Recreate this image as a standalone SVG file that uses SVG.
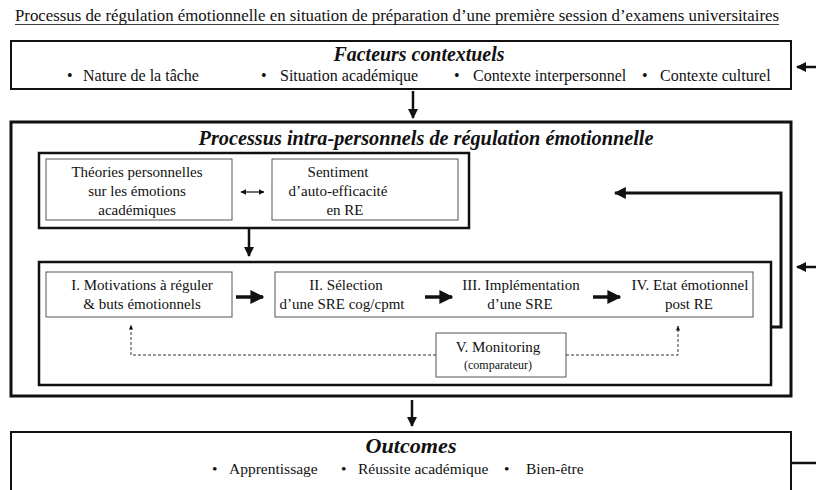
<svg xmlns="http://www.w3.org/2000/svg" width="816" height="490" viewBox="0 0 816 490">
  <style>
    text { font-family: "Liberation Serif", "Times New Roman", serif; fill: #111; }
    .t { font-size: 15px; }
    .m { font-size: 15.5px; }
    .b { font-size: 16px; }
    .l { font-size: 17px; }
    .h { font-size: 20px; font-weight: bold; font-style: italic; }
    .sm { font-size: 12px; }
    .frame { fill: #fff; stroke: #111; }
    .thick { stroke-width: 3; }
    .med { stroke-width: 2.5; }
    .thin { fill: #fff; stroke: #555; stroke-width: 1; }
    .conn { fill: none; stroke: #111; }
    .dash { fill: none; stroke: #333; stroke-width: 1; stroke-dasharray: 3 2; }
  </style>
  <defs>
    <marker id="ah" viewBox="0 0 10 10" refX="9" refY="5" markerWidth="4" markerHeight="4" orient="auto" markerUnits="strokeWidth">
      <path d="M0,0 L10,5 L0,10 z" fill="#111"/>
    </marker>
    <marker id="ahs" viewBox="0 0 10 10" refX="9" refY="5" markerWidth="5" markerHeight="5" orient="auto-start-reverse" markerUnits="strokeWidth">
      <path d="M0,0 L10,5 L0,10 z" fill="#111"/>
    </marker>
    <marker id="ahd" viewBox="0 0 10 10" refX="9" refY="5" markerWidth="5" markerHeight="6" orient="auto" markerUnits="strokeWidth">
      <path d="M0,1 L10,5 L0,9 z" fill="#111"/>
    </marker>
  </defs>

  <!-- title -->
  <text id="title" class="l" x="15" y="21" textLength="764" lengthAdjust="spacingAndGlyphs">Processus de régulation émotionnelle en situation de préparation d’une première session d’examens universitaires</text>
  <line x1="15" y1="24.5" x2="779" y2="24.5" stroke="#111" stroke-width="0.8"/>

  <!-- contextual factors -->
  <g id="facteurs">
    <rect class="frame" x="11" y="41" width="780" height="48" stroke-width="2"/>
    <text class="h" x="419" y="61" text-anchor="middle" textLength="171" lengthAdjust="spacingAndGlyphs">Facteurs contextuels</text>
    <text class="b" y="81">
      <tspan x="67">•</tspan><tspan x="83">Nature de la tâche</tspan>
      <tspan x="261">•</tspan><tspan x="280">Situation académique</tspan>
      <tspan x="454">•</tspan><tspan x="473">Contexte interpersonnel</tspan>
      <tspan x="642">•</tspan><tspan x="660">Contexte culturel</tspan>
    </text>
  </g>

  <!-- intra-personal processes -->
  <g id="processus">
    <rect class="frame thick" x="11" y="122" width="780" height="274"/>
    <text class="h" x="426" y="145" text-anchor="middle" textLength="455" lengthAdjust="spacingAndGlyphs">Processus intra-personnels de régulation émotionnelle</text>
  </g>

  <g id="antecedents">
    <rect class="frame med" x="39" y="153" width="430" height="75"/>
  </g>

  <g id="theories">
    <rect class="thin" x="46" y="159" width="186" height="61"/>
    <text class="t" text-anchor="middle"><tspan x="137" y="177">Théories personnelles</tspan><tspan x="137" y="196">sur les émotions</tspan><tspan x="137" y="215">académiques</tspan></text>
  </g>

  <g id="sentiment">
    <rect class="thin" x="272" y="159" width="186" height="61"/>
    <text class="t" text-anchor="middle"><tspan x="338" y="177">Sentiment</tspan><tspan x="338" y="196">d’auto-efficacité</tspan><tspan x="345" y="215">en RE</tspan></text>
  </g>

  <g id="cycle">
    <rect class="frame med" x="39" y="262" width="732" height="123"/>
  </g>

  <g id="motivations">
    <rect class="thin" x="46" y="272" width="186" height="45"/>
    <text class="t" text-anchor="middle"><tspan x="142" y="290">I. Motivations à réguler</tspan><tspan x="142" y="309">&amp; buts émotionnels</tspan></text>
  </g>

  <g id="strategies">
    <rect class="thin" x="275" y="272" width="478" height="45"/>
    <text class="t" text-anchor="middle"><tspan x="346" y="290">II. Sélection</tspan><tspan x="342" y="309">d’une SRE cog/cpmt</tspan></text>
    <text class="t" text-anchor="middle"><tspan x="521" y="290">III. Implémentation</tspan><tspan x="520" y="309">d’une SRE</tspan></text>
    <text class="t" text-anchor="middle"><tspan x="690" y="290">IV. Etat émotionnel</tspan><tspan x="689" y="309">post RE</tspan></text>
  </g>

  <g id="monitoring">
    <rect class="thin" x="436" y="333" width="130" height="44"/>
    <text class="t" x="498" y="352" text-anchor="middle">V. Monitoring</text>
    <text class="sm" x="498" y="369" text-anchor="middle">(comparateur)</text>
  </g>

  <g id="outcomes">
    <rect class="frame" x="11" y="432" width="780" height="70" stroke-width="2"/>
    <text class="h" x="411" y="453" text-anchor="middle" textLength="91" lengthAdjust="spacingAndGlyphs">Outcomes</text>
    <text class="m" y="474">
      <tspan x="212">•</tspan><tspan x="229">Apprentissage</tspan>
      <tspan x="341">•</tspan><tspan x="358">Réussite académique</tspan>
      <tspan x="504">•</tspan><tspan x="526">Bien-être</tspan>
    </text>
  </g>

  <!-- connectors -->
  <g id="connectors">
    <line class="conn" x1="413" y1="91" x2="413" y2="118" stroke-width="2.5" marker-end="url(#ah)"/>
    <line class="conn" x1="249" y1="229" x2="249" y2="256" stroke-width="2.5" marker-end="url(#ah)"/>
    <line class="conn" x1="412" y1="400" x2="412" y2="426" stroke-width="2.5" marker-end="url(#ah)"/>
    <line class="conn" x1="816" y1="67" x2="797" y2="67" stroke-width="2.5" marker-end="url(#ah)"/>
    <line class="conn" x1="816" y1="267" x2="797" y2="267" stroke-width="2.5" marker-end="url(#ah)"/>
    <line class="conn" x1="791" y1="463" x2="816" y2="463" stroke-width="2.5"/>
    <line class="conn" x1="241" y1="192" x2="264" y2="192" stroke-width="1.2" marker-start="url(#ahs)" marker-end="url(#ahs)"/>
    <line class="conn" x1="236" y1="297" x2="263" y2="297" stroke-width="3.5" marker-end="url(#ah)"/>
    <line class="conn" x1="425" y1="297" x2="452" y2="297" stroke-width="3.5" marker-end="url(#ah)"/>
    <line class="conn" x1="593" y1="297" x2="620" y2="297" stroke-width="3.5" marker-end="url(#ah)"/>
    <polyline class="conn" points="771,327 781,327 781,193 615,193" stroke-width="3" marker-end="url(#ah)"/>
    <polyline class="dash" points="436,355 131,355 131,325" marker-end="url(#ahd)"/>
    <polyline class="dash" points="566,355 678,355 678,326" marker-end="url(#ahd)"/>
  </g>
</svg>
